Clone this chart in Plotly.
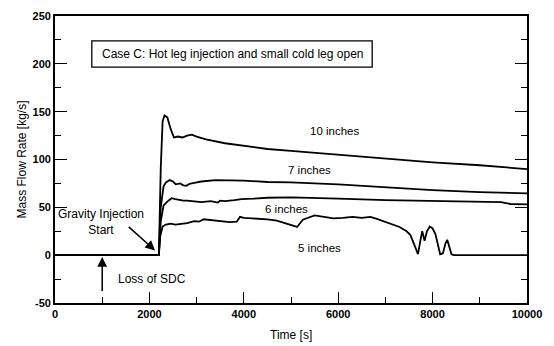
import plotly.graph_objects as go

# ---- data ----
t_10in = [0, 2200, 2240, 2280, 2320, 2380, 2450, 2520, 2600, 2700, 2800, 2900, 3000, 3200, 3600,
          4000, 4500, 5000, 6000, 7000, 8000, 9000, 10000]
v_10in = [0, 0, 90, 140, 146, 144, 132, 123, 124, 123, 125, 126, 124, 121, 117,
          114, 111, 109, 105, 101, 97, 94, 90]

t_7in = [0, 2200, 2240, 2300, 2350, 2430, 2500, 2560, 2650, 2720, 2780, 2850, 2950, 3100, 3400,
         3800, 4000, 4500, 5000, 6000, 7000, 8000, 9000, 10000]
v_7in = [0, 0, 50, 72, 76, 78.5, 77, 74, 75, 73, 72.5, 74.5, 75.5, 77, 78.5,
         78.5, 78, 76.5, 76, 74, 71, 68, 66, 64.5]

t_6in = [0, 2200, 2240, 2300, 2380, 2470, 2550, 2650, 2720, 2800, 2950, 3100, 3300, 3450, 3500,
         3600, 3800, 3950, 4200, 4500, 5000, 5500, 6000, 7000, 8000, 9000, 9450, 9650, 10000]
v_6in = [0, 0, 35, 52, 56, 59.5, 58.5, 57.5, 57, 57, 56.5, 55.5, 56.5, 55, 57,
         56.5, 57.5, 58.5, 59, 60, 60.5, 59.5, 59, 57.5, 56.5, 56, 55.5, 53.5, 53]

t_5in = [0, 2200, 2230, 2280, 2350, 2450, 2550, 2700, 2800, 2950, 3050, 3150, 3300, 3450, 3600,
         3700, 3850, 3920, 4000, 4150, 4300, 4500, 4700, 4900, 5050, 5130, 5250, 5350, 5500,
         5700, 5900, 6100, 6300, 6500, 6680, 6820, 7000, 7100, 7300, 7450, 7530, 7620, 7690,
         7740, 7780, 7830, 7880, 7940, 8000, 8060, 8110, 8160, 8220, 8270, 8310, 8350, 8400,
         8450, 10000]
v_5in = [0, 0, 20, 30, 32, 33, 32, 33, 33.5, 35.5, 35, 37.5, 36.5, 36, 35,
         34.5, 35, 40, 39, 38.5, 38, 37.5, 36, 33, 31, 29.5, 37, 39, 41.5,
         40, 38.5, 39, 40, 39, 40, 38, 35, 33, 29.5, 25, 21, 10, 1,
         15, 25, 15, 25, 30, 28, 22, 10, 1, 2, 12, 16, 10, 1,
         0, 0]

series = [("10 inches", t_10in, v_10in), ("7 inches", t_7in, v_7in),
          ("6 inches", t_6in, v_6in), ("5 inches", t_5in, v_5in)]

x_ticks = [0, 2000, 4000, 6000, 8000, 10000]
y_ticks = [-50, 0, 50, 100, 150, 200, 250]

FONT = "Liberation Sans, Arial, sans-serif"

fig = go.Figure()
for name, t, v in series:
    fig.add_trace(go.Scatter(x=t, y=v, mode="lines", name=name,
                             line=dict(color="black", width=1.8), showlegend=False))

# curve labels
labels = [("10 inches", 5930, 130), ("7 inches", 5400, 89.5),
          ("6 inches", 4900, 48), ("5 inches", 5600, 8)]
for txt, x, y in labels:
    fig.add_annotation(x=x, y=y, text=txt, showarrow=False,
                       font=dict(family=FONT, size=11.5, color="black"))

# case box
fig.add_shape(type="rect", x0=780, x1=6720, y0=196.5, y1=224,
              line=dict(color="black", width=1.3), fillcolor="white")
fig.add_annotation(x=3750, y=210.5, text="Case C: Hot leg injection and small cold leg open",
                   showarrow=False, font=dict(family=FONT, size=12, color="black"))

# gravity injection arrow
fig.add_annotation(x=2120, y=5, ax=1530, ay=31, xref="x", yref="y", axref="x", ayref="y",
                   text="", showarrow=True, arrowhead=2, arrowsize=1.3, arrowwidth=1.5,
                   arrowcolor="black")
fig.add_annotation(x=980, y=35, text="Gravity Injection<br>Start", showarrow=False,
                   font=dict(family=FONT, size=12, color="black"), align="center")

# loss of SDC arrow
fig.add_annotation(x=1000, y=-2, ax=1000, ay=-39, xref="x", yref="y", axref="x", ayref="y",
                   text="", showarrow=True, arrowhead=2, arrowsize=1.3, arrowwidth=1.5,
                   arrowcolor="black")
fig.add_annotation(x=1290, y=-25, text="Loss of SDC", showarrow=False, xanchor="left",
                   font=dict(family=FONT, size=12, color="black"))

# axis titles
fig.add_annotation(xref="paper", yref="paper", x=-0.072, y=0.5, text="Mass Flow Rate [kg/s]",
                   textangle=-90, showarrow=False, xanchor="center", yanchor="middle",
                   font=dict(family=FONT, size=12, color="black"))
fig.add_annotation(xref="paper", yref="paper", x=0.5, y=-0.11, text="Time [s]",
                   showarrow=False, xanchor="center", yanchor="middle",
                   font=dict(family=FONT, size=12, color="black"))

fig.update_xaxes(range=[0, 10000], tickvals=x_ticks, ticktext=[str(v) for v in x_ticks],
                 ticks="inside", ticklen=11, tickwidth=1.2, tickcolor="black",
                 minor=dict(dtick=1000, ticks="inside", ticklen=6, tickcolor="black", tickwidth=1),
                 showline=True, linecolor="black", linewidth=1.8, mirror=True,
                 showgrid=False, zeroline=False,
                 tickfont=dict(family=FONT, size=11, color="black", weight="bold"))
fig.update_yaxes(range=[-50, 250], tickvals=y_ticks, ticktext=[str(v) for v in y_ticks],
                 ticks="inside", ticklen=12, tickwidth=1.2, tickcolor="black",
                 minor=dict(dtick=25, ticks="inside", ticklen=6, tickcolor="black", tickwidth=1),
                 showline=True, linecolor="black", linewidth=1.8, mirror="ticks",
                 showgrid=False, zeroline=False,
                 tickfont=dict(family=FONT, size=11, color="black", weight="bold"))

fig.update_layout(width=554, height=346, margin=dict(l=55, r=27, t=10, b=43),
                  paper_bgcolor="white", plot_bgcolor="white", showlegend=False)

fig.write_html("out.html", config={"displayModeBar": False},
               post_script="document.body.style.margin='0';document.body.style.overflow='hidden';")
